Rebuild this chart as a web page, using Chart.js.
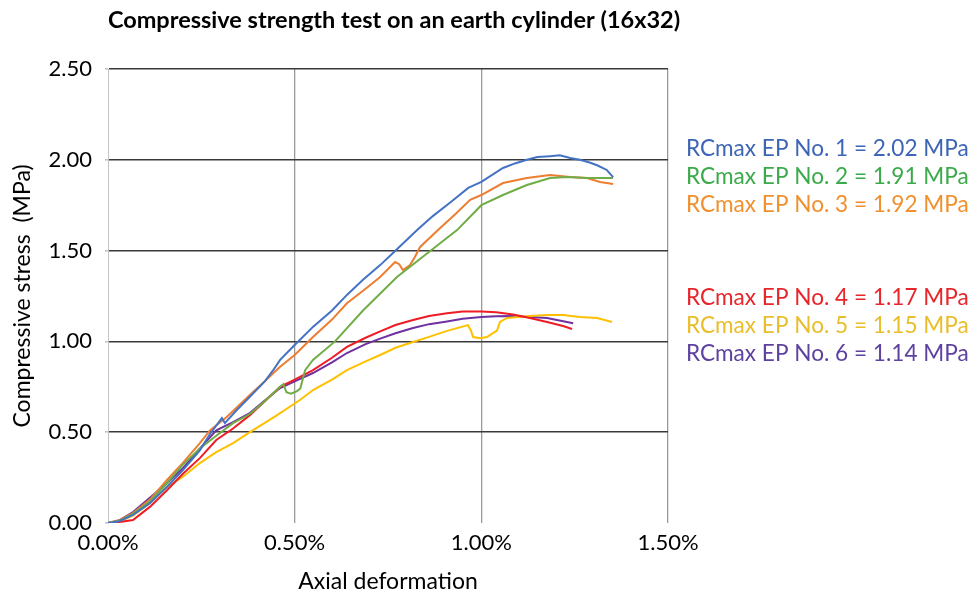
<!DOCTYPE html>
<html>
<head>
<meta charset="utf-8">
<script src="https://cdn.jsdelivr.net/npm/chart.js@4.4.1/dist/chart.umd.min.js"></script>
<style>
  html, body { margin: 0; padding: 0; background: #fff; }
  #wrap { width: 972px; height: 595px; }
</style>
</head>
<body>
<div id="wrap"><canvas id="stressChart" width="972" height="595"></canvas></div>
<script>
// Values (strain in %, stress in MPa)
const ep1X = [0, 0.03, 0.067, 0.113, 0.158, 0.20, 0.246, 0.273, 0.305, 0.313, 0.345, 0.38, 0.42, 0.442, 0.461, 0.50, 0.549, 0.60, 0.64, 0.683, 0.729, 0.769, 0.828, 0.87, 0.92, 0.965, 1.0, 1.058, 1.09, 1.122, 1.15, 1.184, 1.21, 1.238, 1.264, 1.29, 1.31, 1.336, 1.353];
const ep1Y = [0, 0.01, 0.045, 0.11, 0.2, 0.29, 0.40, 0.49, 0.578, 0.55, 0.622, 0.695, 0.78, 0.84, 0.898, 0.98, 1.08, 1.17, 1.256, 1.34, 1.42, 1.498, 1.613, 1.69, 1.77, 1.845, 1.878, 1.955, 1.98, 2.0, 2.015, 2.02, 2.025, 2.01, 2.0, 1.985, 1.97, 1.944, 1.905];

const ep2X = [0, 0.03, 0.067, 0.113, 0.158, 0.20, 0.246, 0.29, 0.335, 0.38, 0.42, 0.461, 0.47, 0.478, 0.49, 0.505, 0.515, 0.528, 0.549, 0.608, 0.683, 0.774, 0.863, 0.935, 1.0, 1.058, 1.122, 1.184, 1.23, 1.283, 1.353];
const ep2Y = [0, 0.012, 0.05, 0.12, 0.22, 0.32, 0.41, 0.48, 0.55, 0.60, 0.67, 0.75, 0.765, 0.72, 0.712, 0.725, 0.74, 0.842, 0.898, 1.0, 1.17, 1.355, 1.498, 1.613, 1.75, 1.806, 1.861, 1.90, 1.905, 1.90, 1.90];

const ep3X = [0, 0.03, 0.067, 0.113, 0.158, 0.20, 0.246, 0.273, 0.318, 0.38, 0.42, 0.461, 0.50, 0.549, 0.60, 0.64, 0.69, 0.729, 0.769, 0.78, 0.79, 0.809, 0.822, 0.836, 0.884, 0.93, 0.97, 1.0, 1.058, 1.122, 1.184, 1.238, 1.283, 1.318, 1.353];
const ep3Y = [0, 0.015, 0.055, 0.13, 0.237, 0.33, 0.44, 0.51, 0.584, 0.705, 0.78, 0.86, 0.925, 1.024, 1.12, 1.21, 1.29, 1.355, 1.437, 1.425, 1.393, 1.42, 1.465, 1.52, 1.613, 1.70, 1.78, 1.806, 1.872, 1.90, 1.916, 1.905, 1.90, 1.878, 1.867];

const ep4X = [0, 0.03, 0.067, 0.113, 0.158, 0.20, 0.246, 0.29, 0.335, 0.38, 0.42, 0.461, 0.50, 0.549, 0.60, 0.64, 0.69, 0.729, 0.77, 0.817, 0.86, 0.908, 0.95, 1.0, 1.04, 1.085, 1.13, 1.176, 1.219, 1.243];
const ep4Y = [0, 0.005, 0.016, 0.09, 0.18, 0.27, 0.357, 0.457, 0.52, 0.594, 0.67, 0.75, 0.79, 0.842, 0.91, 0.97, 1.02, 1.055, 1.09, 1.118, 1.14, 1.155, 1.165, 1.165, 1.16, 1.148, 1.129, 1.107, 1.085, 1.068];

const ep5X = [0, 0.03, 0.067, 0.113, 0.158, 0.20, 0.246, 0.29, 0.335, 0.38, 0.45, 0.514, 0.549, 0.60, 0.64, 0.69, 0.729, 0.77, 0.817, 0.86, 0.908, 0.964, 0.972, 0.978, 0.997, 1.015, 1.031, 1.042, 1.05, 1.069, 1.13, 1.176, 1.219, 1.264, 1.31, 1.35];
const ep5Y = [0, 0.008, 0.04, 0.11, 0.2, 0.253, 0.33, 0.39, 0.44, 0.5, 0.59, 0.677, 0.732, 0.79, 0.842, 0.89, 0.925, 0.965, 0.997, 1.025, 1.058, 1.09, 1.06, 1.024, 1.018, 1.024, 1.046, 1.06, 1.107, 1.129, 1.14, 1.145, 1.145, 1.134, 1.129, 1.107];

const ep6X = [0, 0.03, 0.067, 0.113, 0.158, 0.20, 0.246, 0.29, 0.335, 0.38, 0.42, 0.461, 0.50, 0.549, 0.60, 0.64, 0.69, 0.729, 0.77, 0.817, 0.86, 0.908, 0.95, 1.0, 1.04, 1.085, 1.13, 1.176, 1.246];
const ep6Y = [0, 0.015, 0.06, 0.14, 0.22, 0.30, 0.41, 0.51, 0.555, 0.605, 0.675, 0.743, 0.78, 0.826, 0.885, 0.936, 0.985, 1.015, 1.045, 1.074, 1.095, 1.11, 1.125, 1.134, 1.138, 1.14, 1.135, 1.129, 1.10];

const seriesNames = ['EP No. 1', 'EP No. 2', 'EP No. 3', 'EP No. 4', 'EP No. 5', 'EP No. 6'];
const rcMax = ['2.02', '1.91', '1.92', '1.17', '1.15', '1.14'];
const xTickLabels = ['0.00%', '0.50%', '1.00%', '1.50%'];
const yTickLabels = ['0.00', '0.50', '1.00', '1.50', '2.00', '2.50'];

const lineColors = ['#4472C4', '#70AD47', '#ED7D31', '#EE1C25', '#FFC000', '#7030A0'];
const textColors = ['#3D65B5', '#3BAA4A', '#F0902E', '#E8252A', '#E9BE2A', '#5E42A0'];
const FONT = 'Lato, "DejaVu Sans", sans-serif';

function toPoints(xs, ys) {
  return xs.map((x, i) => ({ x: x, y: ys[i] }));
}

const allX = [ep1X, ep2X, ep3X, ep4X, ep5X, ep6X];
const allY = [ep1Y, ep2Y, ep3Y, ep4Y, ep5Y, ep6Y];

const datasets = allX.map((xs, i) => ({
  label: seriesNames[i],
  data: toPoints(xs, allY[i]),
  showLine: true,
  borderColor: lineColors[i],
  backgroundColor: lineColors[i],
  borderWidth: 2,
  pointRadius: 0,
  tension: 0
}));

// Title and the RCmax notes on the right
const textPlugin = {
  id: 'textPlugin',
  afterDraw(chart) {
    const c = chart.ctx;
    c.save();
    c.fillStyle = '#000';
    c.font = 'bold 23.5px ' + FONT;
    c.textAlign = 'center';
    c.textBaseline = 'middle';
    c.fillText('Compressive strength test on an earth cylinder (16x32)', 394, 20);

    c.font = '22.6px ' + FONT;
    c.textAlign = 'left';
    const rowsY = [149, 177, 205, 298, 326, 354];
    rowsY.forEach((y, i) => {
      c.fillStyle = textColors[i];
      c.fillText('RCmax ' + seriesNames[i] + ' = ' + rcMax[i] + ' MPa', 686, y);
    });
    c.restore();
  }
};

const ctx = document.getElementById('stressChart');
new Chart(ctx, {
  type: 'scatter',
  data: { datasets: datasets },
  options: {
    responsive: false,
    animation: false,
    layout: { padding: { top: 69, right: 304, left: 0, bottom: 0 } },
    plugins: {
      legend: { display: false },
      tooltip: { enabled: false },
      title: { display: false }
    },
    scales: {
      x: {
        type: 'linear',
        min: 0,
        max: 1.5,
        afterFit: s => { s.height = 72; s.paddingLeft = 0; s.paddingRight = 0; },
        ticks: {
          stepSize: 0.5,
          padding: 7,
          color: '#000',
          font: { family: FONT, size: 22 },
          callback: (v, i) => xTickLabels[i]
        },
        grid: {
          drawTicks: false,
          lineWidth: 1.3,
          color: c => (c.tick && c.tick.value === 0) ? 'rgba(0,0,0,0)' : '#9a9a9a'
        },
        border: { display: false },
        title: {
          display: true,
          text: 'Axial deformation',
          color: '#000',
          font: { family: FONT, size: 23 },
          padding: { top: 0, bottom: 0 }
        }
      },
      y: {
        min: 0,
        max: 2.5,
        afterFit: s => { s.width = 108; },
        ticks: {
          stepSize: 0.5,
          padding: 13,
          color: '#000',
          font: { family: FONT, size: 22 },
          callback: (v, i) => yTickLabels[i]
        },
        grid: {
          drawTicks: true,
          tickLength: 3,
          tickColor: '#c4c4c4',
          lineWidth: 1.6,
          color: c => (c.tick && c.tick.value === 0) ? 'rgba(0,0,0,0)' : '#3a3a3a'
        },
        border: { display: true, color: '#c4c4c4', width: 1 },
        title: {
          display: true,
          text: 'Compressive stress  (MPa)',
          color: '#000',
          font: { family: FONT, size: 23 },
          padding: { top: 9, bottom: 0 }
        }
      }
    }
  },
  plugins: [textPlugin]
});
</script>
</body>
</html>
